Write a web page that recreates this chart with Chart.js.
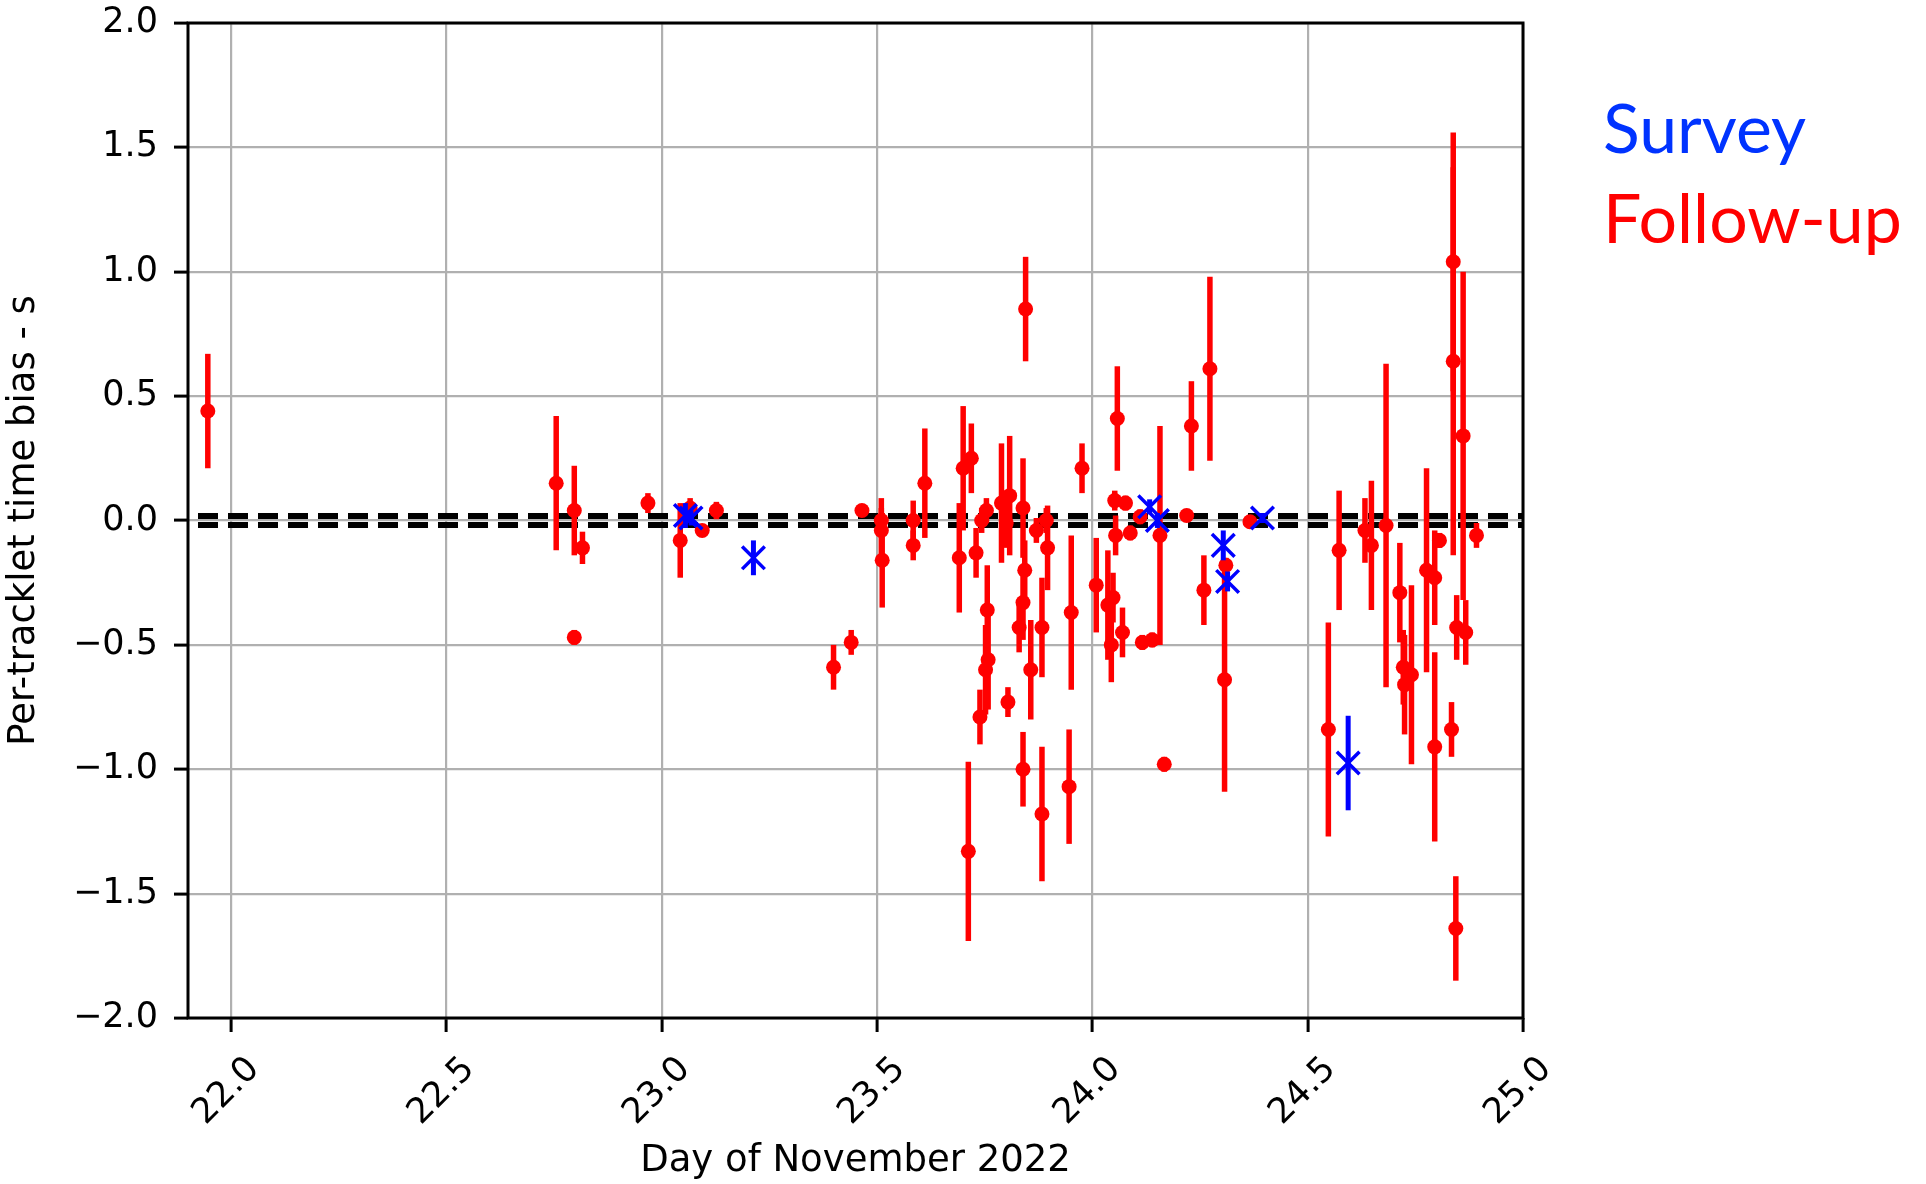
<!DOCTYPE html>
<html>
<head>
<meta charset="utf-8">
<title>Per-tracklet time bias</title>
<script src="https://cdn.jsdelivr.net/npm/chart.js@4.4.1/dist/chart.umd.min.js"></script>
<style>
  body { margin: 0; background: #fff; }
  #wrap { width: 1926px; height: 1184px; }
</style>
</head>
<body>
<div id="wrap"><canvas id="myChart" width="1926" height="1184"></canvas></div>
<script>
const xTicks = [22.0, 22.5, 23.0, 23.5, 24.0, 24.5, 25.0];
const yTicks = [-2.0, -1.5, -1.0, -0.5, 0.0, 0.5, 1.0, 1.5, 2.0];
const biasBand = [-0.018, 0.018];

// Follow-up tracklets: day, bias (s), 1-sigma error
const followX = [
    21.946, 22.755, 22.797, 22.816, 22.797, 22.968, 23.043, 23.066, 23.094, 23.127,
    23.399, 23.440, 23.465, 23.510, 23.510, 23.512, 23.584, 23.584, 23.611, 23.691,
    23.700, 23.719, 23.730, 23.743, 23.754, 23.756, 23.758, 23.752, 23.739, 23.712,
    23.789, 23.808, 23.800, 23.804, 23.839, 23.843, 23.839, 23.830, 23.839, 23.845,
    23.857, 23.870, 23.893, 23.896, 23.883, 23.883, 23.946, 23.951, 23.976, 24.009,
    24.036, 24.048, 24.054, 24.058, 24.052, 24.077, 24.070, 24.044, 24.088, 24.111,
    24.116, 24.139, 24.157, 24.167, 24.219, 24.230, 24.259, 24.273, 24.307, 24.310,
    24.366, 24.548, 24.573, 24.633, 24.648, 24.682, 24.714, 24.722, 24.725, 24.741,
    24.776, 24.795, 24.795, 24.806, 24.834, 24.838, 24.838, 24.861, 24.846, 24.867,
    24.844, 24.892
];
const followY = [
    0.44, 0.15, 0.04, -0.11, -0.47, 0.07, -0.08, 0.05, -0.04, 0.04,
    -0.59, -0.49, 0.04, 0.0, -0.04, -0.16, 0.0, -0.10, 0.15, -0.15,
    0.21, 0.25, -0.13, 0.0, 0.04, -0.36, -0.56, -0.60, -0.79, -1.33,
    0.07, 0.10, -0.01, -0.73, 0.05, -0.20, -0.33, -0.43, -1.00, 0.85,
    -0.60, -0.04, 0.0, -0.11, -0.43, -1.18, -1.07, -0.37, 0.21, -0.26,
    -0.34, -0.31, -0.06, 0.41, 0.08, 0.07, -0.45, -0.50, -0.05, 0.015,
    -0.49, -0.48, -0.06, -0.98, 0.02, 0.38, -0.28, 0.61, -0.64, -0.18,
    -0.005, -0.84, -0.12, -0.04, -0.10, -0.02, -0.29, -0.59, -0.66, -0.62,
    -0.20, -0.23, -0.91, -0.08, -0.84, 1.04, 0.64, 0.34, -0.43, -0.45,
    -1.64, -0.06
];
const followErr = [
    0.23, 0.27, 0.18, 0.065, 0.03, 0.04, 0.15, 0.04, 0.02, 0.035,
    0.09, 0.05, 0.02, 0.05, 0.13, 0.19, 0.08, 0.06, 0.22, 0.22,
    0.25, 0.14, 0.10, 0.05, 0.05, 0.18, 0.20, 0.18, 0.11, 0.36,
    0.24, 0.24, 0.10, 0.06, 0.20, 0.12, 0.15, 0.10, 0.15, 0.21,
    0.20, 0.05, 0.05, 0.17, 0.20, 0.27, 0.23, 0.31, 0.10, 0.19,
    0.22, 0.10, 0.08, 0.21, 0.04, 0.03, 0.10, 0.15, 0.03, 0.03,
    0.03, 0.03, 0.44, 0.03, 0.02, 0.18, 0.14, 0.37, 0.45, 0.03,
    0.02, 0.43, 0.24, 0.13, 0.26, 0.65, 0.20, 0.15, 0.20, 0.36,
    0.41, 0.19, 0.38, 0.03, 0.11, 0.52, 0.78, 0.66, 0.13, 0.13,
    0.21, 0.05
];

// Survey tracklets
const surveyX = [23.055, 23.068, 23.213, 24.133, 24.151, 24.304, 24.314, 24.395, 24.594];
const surveyY = [0.02, 0.01, -0.15, 0.055, 0.0, -0.10, -0.245, 0.01, -0.975];
const surveyErr = [0.05, 0.03, 0.07, 0.03, 0.03, 0.06, 0.04, 0.02, 0.19];

const legendTexts = ['Survey', 'Follow-up'];
const legendColors = ['#0033ff', '#ff0000'];

const toPoints = (xs, ys) => xs.map((x, i) => ({ x: x, y: ys[i] }));

const minusLabel = (v) => (v < 0 ? '\u2212' + Math.abs(v).toFixed(1) : v.toFixed(1));

const errorBars = {
    id: 'errorBars',
    beforeDatasetDraw(chart, args) {
        const ds = chart.data.datasets[args.index];
        const { ctx, chartArea, scales } = chart;
        ctx.save();
        ctx.beginPath();
        ctx.rect(chartArea.left, chartArea.top, chartArea.width, chartArea.height);
        ctx.clip();
        ctx.strokeStyle = ds.errColor;
        ctx.lineWidth = ds.errWidth;
        ds.data.forEach((p, i) => {
            const px = scales.x.getPixelForValue(p.x);
            ctx.beginPath();
            ctx.moveTo(px, scales.y.getPixelForValue(p.y - ds.errors[i]));
            ctx.lineTo(px, scales.y.getPixelForValue(p.y + ds.errors[i]));
            ctx.stroke();
        });
        ctx.restore();
    }
};

const bandLines = {
    id: 'bandLines',
    beforeDatasetsDraw(chart) {
        const { ctx, chartArea, scales } = chart;
        ctx.save();
        ctx.strokeStyle = '#000000';
        ctx.lineWidth = 6;
        ctx.setLineDash([20, 10]);
        ctx.lineDashOffset = 20;
        biasBand.forEach(v => {
            const py = scales.y.getPixelForValue(v);
            ctx.beginPath();
            ctx.moveTo(chartArea.left, py);
            ctx.lineTo(chartArea.right, py);
            ctx.stroke();
        });
        ctx.restore();
    },
    afterDatasetsDraw(chart) {
        const { ctx, chartArea } = chart;
        ctx.save();
        ctx.strokeStyle = '#000000';
        ctx.lineWidth = 3;
        ctx.strokeRect(chartArea.left, chartArea.top, chartArea.width, chartArea.height);
        ctx.restore();
    }
};

const sideLegend = {
    id: 'sideLegend',
    afterDraw(chart) {
        const ctx = chart.ctx;
        ctx.save();
        ctx.font = '68px Lato';
        ctx.textAlign = 'left';
        ctx.textBaseline = 'alphabetic';
        legendTexts.forEach((t, i) => {
            ctx.fillStyle = legendColors[i];
            ctx.fillText(t, 1603, 153 + i * 90);
        });
        ctx.restore();
    }
};

Chart.defaults.font.family = 'DejaVu Sans';
Chart.defaults.color = '#000000';

const ctx = document.getElementById('myChart');

const myChart = new Chart(ctx, {
    type: 'scatter',
    data: {
        datasets: [{
            label: 'Survey',
            data: toPoints(surveyX, surveyY),
            errors: surveyErr,
            errColor: '#0000ff',
            errWidth: 5,
            pointStyle: 'crossRot',
            pointRadius: 16,
            pointBorderWidth: 3.5,
            borderColor: '#0000ff',
            backgroundColor: '#0000ff'
        }, {
            label: 'Follow-up',
            data: toPoints(followX, followY),
            errors: followErr,
            errColor: '#ff0000',
            errWidth: 5.5,
            pointStyle: 'circle',
            pointRadius: 7.5,
            pointBorderWidth: 0,
            borderColor: '#ff0000',
            backgroundColor: '#ff0000'
        }]
    },
    options: {
        responsive: false,
        animation: false,
        devicePixelRatio: 1,
        layout: {
            padding: { left: 0, right: 403, top: 23, bottom: 0 }
        },
        plugins: {
            legend: { display: false },
            tooltip: { enabled: false }
        },
        scales: {
            x: {
                type: 'linear',
                min: 21.9,
                max: 25.0,
                afterBuildTicks: (scale) => { scale.ticks = xTicks.map(v => ({ value: v })); },
                afterFit: (scale) => { scale.height = 166; },
                grid: {
                    color: '#b0b0b0',
                    lineWidth: 2.2,
                    drawTicks: true,
                    tickLength: 14,
                    tickColor: '#000000',
                    tickWidth: 3
                },
                border: { display: false },
                ticks: {
                    autoSkip: false,
                    minRotation: 45,
                    maxRotation: 45,
                    padding: 17,
                    labelOffset: 23,
                    font: { size: 35 },
                    callback: (v) => Number(v).toFixed(1)
                },
                title: {
                    display: true,
                    text: 'Day of November 2022',
                    font: { size: 37 },
                    padding: { top: 0, bottom: 0 }
                }
            },
            y: {
                min: -2.0,
                max: 2.0,
                afterBuildTicks: (scale) => { scale.ticks = yTicks.map(v => ({ value: v })); },
                afterFit: (scale) => {
                    scale.width = 188;
                    scale.paddingTop = 0;
                    scale.paddingBottom = 0;
                },
                grid: {
                    color: '#b0b0b0',
                    lineWidth: 2.2,
                    drawTicks: true,
                    tickLength: 14,
                    tickColor: '#000000',
                    tickWidth: 3
                },
                border: { display: false },
                ticks: {
                    padding: 16,
                    font: { size: 35 },
                    callback: (v) => minusLabel(Number(v))
                },
                title: {
                    display: true,
                    text: 'Per-tracklet time bias - s',
                    font: { size: 37 },
                    padding: { top: 2, bottom: 0 }
                }
            }
        }
    },
    plugins: [errorBars, bandLines, sideLegend]
});
</script>
</body>
</html>
